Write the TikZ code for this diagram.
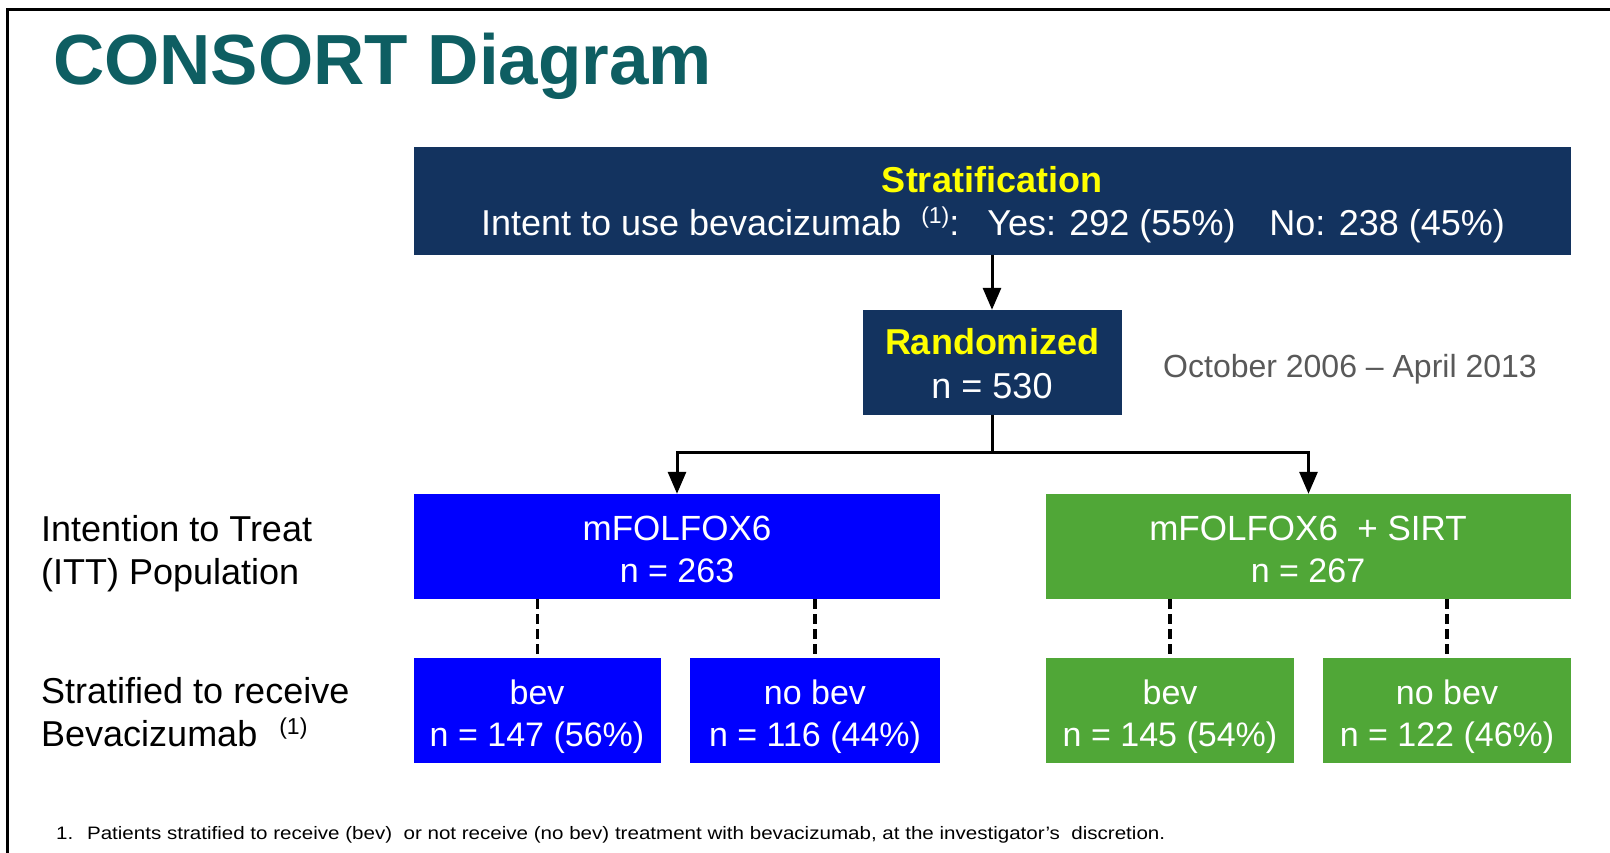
\documentclass[tikz,border=0pt]{standalone}
\usepackage{fontspec}
\setmainfont{Liberation Sans}
\usepackage{graphicx}
\usetikzlibrary{arrows.meta}
\definecolor{navy}{HTML}{13335F}
\definecolor{bblue}{HTML}{0000FF}
\definecolor{ggreen}{HTML}{50A737}
\definecolor{yel}{HTML}{FFFF00}
\definecolor{teal}{HTML}{0E5E62}
\definecolor{dgrey}{HTML}{595959}
\newcommand{\myfs}[1]{\fontsize{#1}{#1}\selectfont}
\begin{document}
\begin{tikzpicture}[x=1pt,y=-1pt,
  boxn/.style={rectangle, inner sep=0pt, minimum height=105pt},
  txt/.style={inner sep=0pt, anchor=base, text=white, font=\myfs{36}},
  ytxt/.style={inner sep=0pt, anchor=base, text=yel, font=\myfs{36}\bfseries},
  lbl/.style={inner sep=0pt, anchor=base west, text=black, font=\myfs{36}},
  arr/.style={line width=3pt, -{Triangle[width=18pt,length=22pt]}},
  conn/.style={line width=3pt},
  dashline/.style={line width=3.5pt, dash pattern=on 10pt off 5pt}
]
\useasboundingbox (0,0) rectangle (1610,853);
\fill[white] (0,0) rectangle (1610,853);
% frame
\draw[line width=3pt] (7,853) -- (7,10) -- (1610,10);
% title
\node[inner sep=0pt, anchor=base west, text=teal, font=\myfs{71}\bfseries] (title) at (53,85) {CONSORT Diagram};
% boxes
\node[boxn, fill=navy, minimum width=1157pt, minimum height=108pt] (top) at (992.5,201) {};
\node[boxn, fill=navy, minimum width=259pt] (rand) at (992,362.5) {};
\node[boxn, fill=bblue, minimum width=526pt] (folf) at (677,546.5) {};
\node[boxn, fill=ggreen, minimum width=525pt] (sirt) at (1308.5,546.5) {};
\node[boxn, fill=bblue, minimum width=247pt] (fbev) at (537.5,710.5) {};
\node[boxn, fill=bblue, minimum width=250pt] (fnobev) at (815,710.5) {};
\node[boxn, fill=ggreen, minimum width=248pt] (sbev) at (1170,710.5) {};
\node[boxn, fill=ggreen, minimum width=248pt] (snobev) at (1447,710.5) {};
% box texts
\node[ytxt] (t1) at (992,193) {Stratification};
\node[txt] (t2) at (993,236) {Intent to use bevacizumab\hspace{20pt}\raisebox{12pt}{\myfs{23}(1)}:\hspace{28pt}Yes: 292 (55\%)\hspace{34pt}No: 238 (45\%)};
\node[ytxt] (r1) at (992,354) {Randomized};
\node[txt] (r2) at (992,398) {n = 530};
\node[txt, font=\myfs{35}] (f1) at (677,540) {mFOLFOX6};
\node[txt, font=\myfs{34}] (f2) at (677,582) {n = 263};
\node[txt, font=\myfs{35}] (s1) at (1308,540) {mFOLFOX6\ \ + SIRT};
\node[txt, font=\myfs{34}] (s2) at (1308,582) {n = 267};
\node[txt, font=\myfs{34}] (fb1) at (537,704) {bev};
\node[txt, font=\myfs{34}] (fb2) at (537,746) {n = 147 (56\%)};
\node[txt, font=\myfs{34}] (fn1) at (815,704) {no bev};
\node[txt, font=\myfs{34}] (fn2) at (815,746) {n = 116 (44\%)};
\node[txt, font=\myfs{34}] (sb1) at (1170,704) {bev};
\node[txt, font=\myfs{34}] (sb2) at (1170,746) {n = 145 (54\%)};
\node[txt, font=\myfs{34}] (sn1) at (1447,704) {no bev};
\node[txt, font=\myfs{34}] (sn2) at (1447,746) {n = 122 (46\%)};
% date
\node[inner sep=0pt, anchor=base west, text=dgrey, font=\myfs{32}] (date) at (1163,377) {October 2006 -- April 2013};
% left labels
\node[lbl] (l1) at (41,541) {Intention to Treat};
\node[lbl] (l2) at (41,584) {(ITT) Population};
\node[lbl] (l3) at (41,703) {Stratified to receive};
\node[lbl] (l4) at (41,746) {Bevacizumab\hspace{22pt}\raisebox{12pt}{\myfs{23}(1)}};
% footnote
\node[inner sep=0pt, anchor=base west, text=black, font=\myfs{18}] (foot) at (56,839) {\resizebox{1109pt}{\height}{1.\hspace{12pt}Patients stratified to receive (bev)\ \ or not receive (no bev) treatment with bevacizumab, at the investigator's\ \ discretion.}};
% connectors
\coordinate (split) at (992,452);
\draw[arr] (top.south -| rand.north) -- (rand.north);
\draw[conn] (rand.south) -- (split);
\draw[arr] (split) -| (folf.north);
\draw[arr] (split) -| (sirt.north);
\draw[dashline] (folf.south -| fbev.north) -- (fbev.north);
\draw[dashline] (folf.south -| fnobev.north) -- (fnobev.north);
\draw[dashline] (sirt.south -| sbev.north) -- (sbev.north);
\draw[dashline] (sirt.south -| snobev.north) -- (snobev.north);
\end{tikzpicture}
\end{document}
